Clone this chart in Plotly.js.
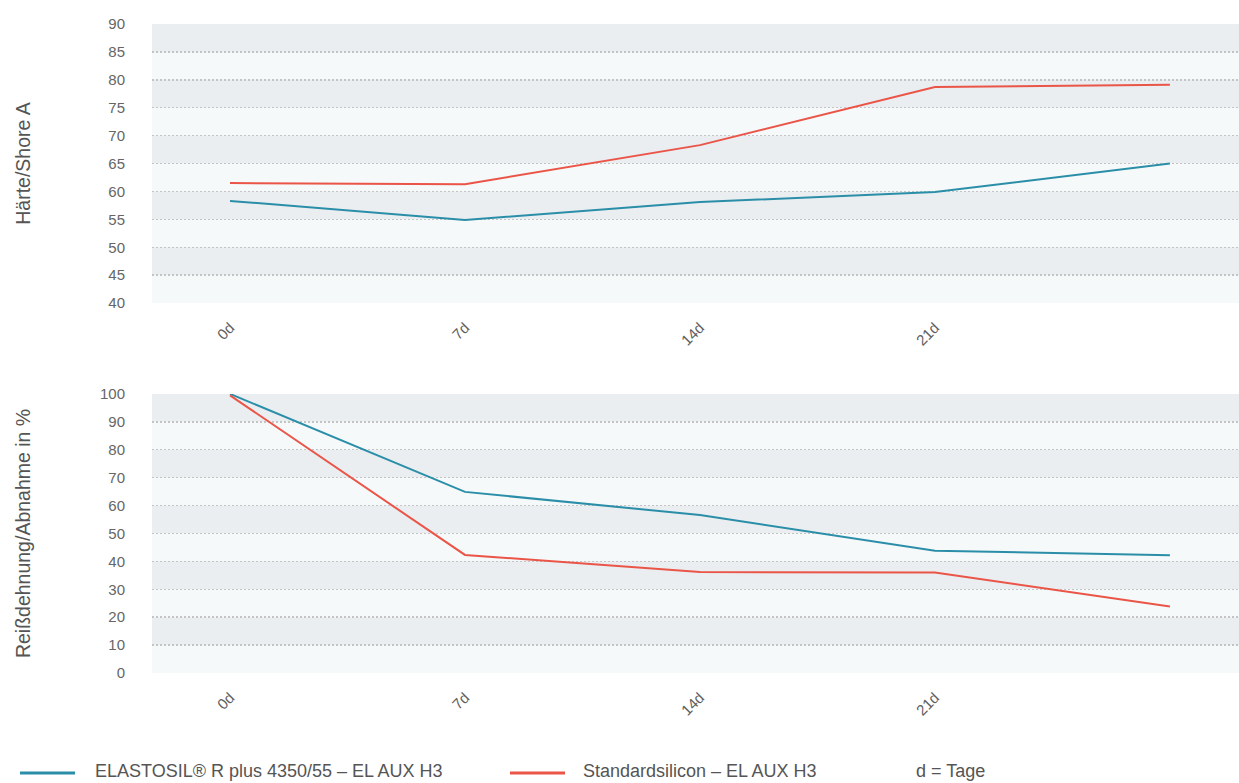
<!DOCTYPE html>
<html>
<head>
<meta charset="utf-8">
<script src="https://cdn.plot.ly/plotly-3.0.1.min.js"></script>
<style>html,body{margin:0;padding:0;background:#fff;}#chart{width:1239px;height:783px;}</style>
</head>
<body>
<div id="chart"></div>
<script>
const categories = ['0d', '7d', '14d', '21d', '28d'];
const tickLabels = ['0d', '7d', '14d', '21d', ''];
const hardnessElastosil = [58.3, 54.9, 58.1, 59.9, 65.0];
const hardnessStandard = [61.5, 61.3, 68.3, 78.7, 79.1];
const elongationElastosil = [100, 64.9, 56.6, 43.8, 42.2];
const elongationStandard = [99.5, 42.3, 36.2, 36.0, 23.8];
const seriesNames = ['ELASTOSIL® R plus 4350/55 – EL AUX H3', 'Standardsilicon – EL AUX H3'];
const noteText = 'd = Tage';
const topTicks = [40, 45, 50, 55, 60, 65, 70, 75, 80, 85, 90];
const bottomTicks = [0, 10, 20, 30, 40, 50, 60, 70, 80, 90, 100];

const BLUE = '#2b8ea8', RED = '#ea5548';
const FONT = 'Liberation Sans, Arial, sans-serif';

const traces = [
  {x: categories, y: hardnessElastosil, xaxis: 'x', yaxis: 'y', type: 'scatter', mode: 'lines',
   name: seriesNames[0], line: {color: BLUE, width: 2}},
  {x: categories, y: hardnessStandard, xaxis: 'x', yaxis: 'y', type: 'scatter', mode: 'lines',
   name: seriesNames[1], line: {color: RED, width: 2}},
  {x: categories, y: elongationElastosil, xaxis: 'x2', yaxis: 'y2', type: 'scatter', mode: 'lines',
   name: seriesNames[0], line: {color: BLUE, width: 2}},
  {x: categories, y: elongationStandard, xaxis: 'x2', yaxis: 'y2', type: 'scatter', mode: 'lines',
   name: seriesNames[1], line: {color: RED, width: 2}}
];

// pixel helpers for legend placement (paper coordinates)
const ML = 152, MT = 24, MB = 110, W = 1239, H = 783;
const PW = W - ML, PH = H - MT - MB;
const px = v => (v - ML) / PW;
const py = v => (H - MB - v) / PH;

// alternating background bands
const shapes = [];
function bands(ticks, xref, yref) {
  for (let i = ticks.length - 1; i > 0; i--) {
    const dark = ((ticks.length - 1 - i) % 2) === 0;
    shapes.push({type: 'rect', xref: xref, yref: yref,
      x0: 0, x1: 1, y0: ticks[i - 1], y1: ticks[i],
      fillcolor: dark ? '#eaeef1' : '#f5f9fa', line: {width: 0}, layer: 'below'});
  }
}
bands(topTicks, 'x domain', 'y');
bands(bottomTicks, 'x2 domain', 'y2');

// legend keys
const legendY = py(773);
shapes.push({type: 'line', xref: 'paper', yref: 'paper', x0: px(20), x1: px(75), y0: legendY, y1: legendY,
  line: {color: BLUE, width: 3}});
shapes.push({type: 'line', xref: 'paper', yref: 'paper', x0: px(510), x1: px(565), y0: legendY, y1: legendY,
  line: {color: RED, width: 3}});

const legendFont = {family: FONT, size: 18, color: '#555'};
const textY = py(771);
const annotations = [
  {text: seriesNames[0], xref: 'paper', yref: 'paper', x: px(93), y: textY, xanchor: 'left', yanchor: 'middle',
   showarrow: false, font: legendFont},
  {text: seriesNames[1], xref: 'paper', yref: 'paper', x: px(581), y: textY, xanchor: 'left', yanchor: 'middle',
   showarrow: false, font: legendFont},
  {text: noteText, xref: 'paper', yref: 'paper', x: px(914), y: textY, xanchor: 'left', yanchor: 'middle',
   showarrow: false, font: legendFont}
];

const xCommon = {
  type: 'category', categoryorder: 'array', categoryarray: categories,
  tickmode: 'array', tickvals: categories, ticktext: tickLabels,
  range: [-0.332, 4.294], tickangle: -45, showgrid: false, zeroline: false, showline: false,
  ticks: '', ticklabelstandoff: 12, tickfont: {family: FONT, size: 15, color: '#5e5e5e'}
};
const yCommon = {
  showline: false, zeroline: false, showgrid: true, gridcolor: '#c4c4c4', griddash: '2px,2px', gridwidth: 1.5,
  ticks: '', ticklabelstandoff: 26, tickfont: {family: FONT, size: 15, color: '#666'}, tickmode: 'array'
};
const titleFont = {family: FONT, size: 19.5, color: '#555'};

const layout = {
  width: W, height: H,
  margin: {l: ML, r: 0, t: MT, b: MB},
  paper_bgcolor: '#fff', plot_bgcolor: '#fff',
  font: {family: FONT, color: '#666'},
  showlegend: false,
  xaxis: Object.assign({}, xCommon, {anchor: 'y', domain: [0, 1]}),
  xaxis2: Object.assign({}, xCommon, {anchor: 'y2', domain: [0, 1]}),
  yaxis: Object.assign({}, yCommon, {domain: [0.570, 1], range: [40, 90], tickvals: topTicks,
    title: {text: 'Härte/Shore A', standoff: 72, font: titleFont}}),
  yaxis2: Object.assign({}, yCommon, {domain: [0, 0.430], range: [0, 100], tickvals: bottomTicks,
    title: {text: 'Reißdehnung/Abnahme in %', standoff: 64, font: titleFont}}),
  shapes: shapes,
  annotations: annotations
};

Plotly.newPlot('chart', traces, layout, {displayModeBar: false, staticPlot: true});
</script>
</body>
</html>
